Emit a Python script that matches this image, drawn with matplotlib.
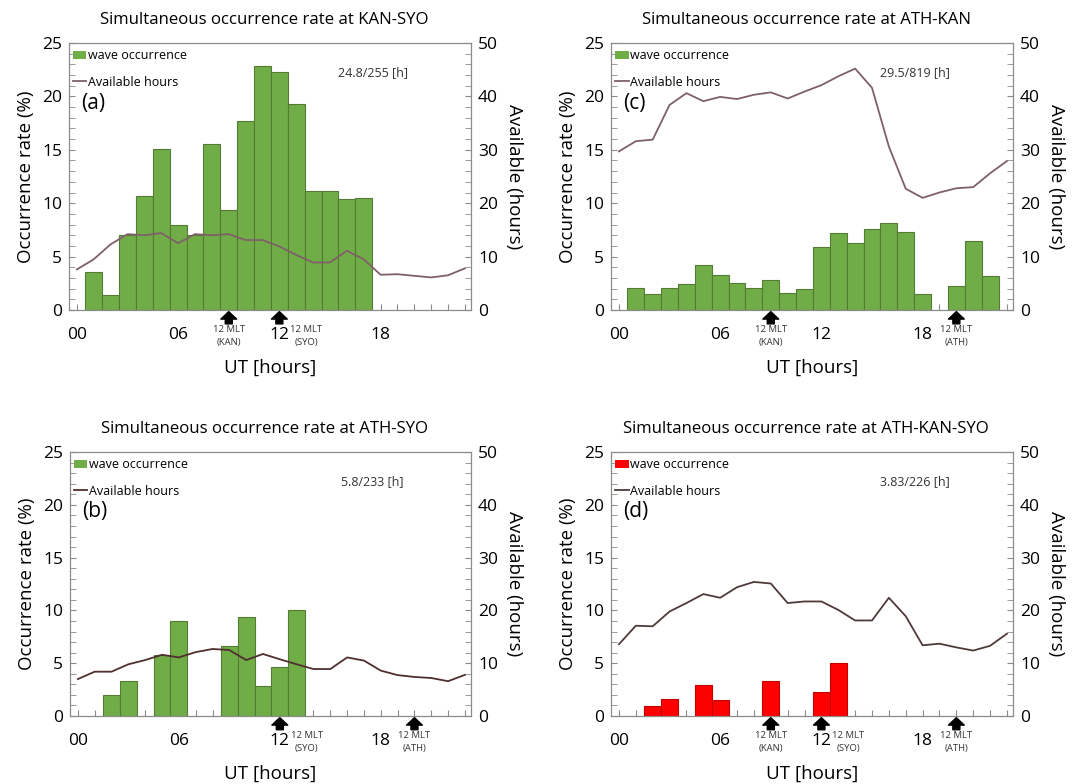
import matplotlib
matplotlib.use('Agg')
import matplotlib.pyplot as plt
from matplotlib.patches import Patch
from matplotlib.lines import Line2D

plt.rcParams['font.family'] = ['Open Sans', 'DejaVu Sans']

hours = list(range(24))

# (a) KAN-SYO
rate_a = [0, 3.6, 1.4, 7.0, 10.7, 15.1, 8.0, 7.0, 15.5, 9.4, 17.7, 22.8,
          22.3, 19.3, 11.1, 11.1, 10.4, 10.5, 0, 0, 0, 0, 0, 0]
avail_a = [7.6, 9.5, 12.3, 14.2, 14.0, 14.4, 12.5, 14.2, 14.0, 14.2, 13.1, 13.1,
           11.9, 10.3, 8.9, 8.9, 11.1, 9.5, 6.6, 6.7, 6.4, 6.1, 6.5, 7.8]

# (c) ATH-KAN
rate_c = [0, 2.1, 1.5, 2.1, 2.4, 4.2, 3.3, 2.5, 2.1, 2.8, 1.6, 2.0,
          5.9, 7.2, 6.25, 7.6, 8.1, 7.3, 1.5, 0, 2.2, 6.5, 3.2, 0]
avail_c = [29.7, 31.6, 31.9, 38.4, 40.6, 39.1, 39.9, 39.5, 40.3, 40.75, 39.6, 40.9,
           42.1, 43.75, 45.2, 41.6, 30.6, 22.7, 21.0, 22.0, 22.8, 23.0, 25.6, 27.9]

# (b) ATH-SYO
rate_b = [0, 0, 1.97, 3.34, 0, 5.8, 8.97, 0, 0, 6.66, 9.4, 2.8,
          4.6, 10.0, 0, 0, 0, 0, 0, 0, 0, 0, 0, 0]
avail_b = [7.0, 8.4, 8.4, 9.8, 10.6, 11.6, 11.1, 12.1, 12.7, 12.5, 10.6, 11.75,
           10.75, 9.8, 8.9, 8.9, 11.1, 10.5, 8.6, 7.75, 7.4, 7.2, 6.6, 7.8]

# (d) ATH-KAN-SYO
rate_d = [0, 0, 0.97, 1.6, 0, 2.9, 1.5, 0, 0, 3.3, 0, 0,
          2.3, 5.0, 0, 0, 0, 0, 0, 0, 0, 0, 0, 0]
avail_d = [13.6, 17.1, 17.0, 19.8, 21.4, 23.1, 22.4, 24.4, 25.4, 25.1, 21.4, 21.7,
           21.7, 20.1, 18.1, 18.1, 22.4, 18.9, 13.4, 13.7, 13.0, 12.4, 13.3, 15.6]

# UT of 12 MLT at each station
mlt_noon = {'KAN': 9, 'SYO': 12, 'ATH': 20}

GREEN, GREEN_EDGE = '#70ad47', '#557a35'
RED, RED_EDGE = '#ff0000', '#c00000'
GREY = '#8a8a8a'


def draw_panel(ax, title, rates, avail, fill, edge, linecolor, tag, note, stations):
    xs = [h for h, v in zip(hours, rates) if v > 0]
    ys = [v for v in rates if v > 0]
    ax.bar(xs, ys, width=1.0, color=fill, edgecolor=edge, linewidth=0.8, zorder=2)
    ax.set_xlim(-0.47, 23.36)
    ax.set_ylim(0, 25)
    ax.set_yticks(range(0, 26, 5))
    ax.set_yticks(range(0, 26), minor=True)
    ax.set_xticks(hours)
    ax.set_xticklabels(['%02d' % h if h % 6 == 0 else '' for h in hours])
    ax.tick_params(axis='x', direction='in', length=4, color=GREY, pad=12, labelsize=12.5)
    ax.tick_params(axis='y', which='both', direction='in', length=4, color=GREY,
                   labelsize=12.5, pad=5)
    for s in ax.spines.values():
        s.set_color(GREY)
    ax.set_title(title, fontsize=12.1, pad=14, x=0.485)
    ax.set_ylabel('Occurrence rate (%)', fontsize=13.5)
    ax.yaxis.set_label_coords(-0.085, 0.5)
    ax.set_xlabel('UT [hours]', fontsize=13.5, va='top')
    ax.xaxis.set_label_coords(0.5, -0.183)

    ax2 = ax.twinx()
    ax2.plot(hours, avail, color=linecolor, linewidth=1.3, zorder=3)
    ax2.set_ylim(0, 50)
    ax2.set_yticks(range(0, 51, 10))
    ax2.set_yticks(range(0, 51, 2), minor=True)
    ax2.tick_params(axis='y', which='both', direction='in', length=4, color=GREY,
                    labelsize=12.5, pad=5)
    for s in ax2.spines.values():
        s.set_color(GREY)
    ax2.set_ylabel('Available (hours)', fontsize=13.5, rotation=270, va='bottom')
    ax2.yaxis.set_label_coords(1.085, 0.5)

    handles = [Patch(facecolor=fill, edgecolor='none'),
               Line2D([], [], color=linecolor, linewidth=1.3)]
    ax2.legend(handles, ['wave occurrence', 'Available hours'], loc='upper left',
               bbox_to_anchor=(0.0, 0.99), frameon=False, fontsize=9,
               handlelength=1.1, handleheight=0.7, handletextpad=0.1,
               labelspacing=1.05, borderaxespad=0.1, borderpad=0.2)

    ax.text(0.03, 0.775, tag, transform=ax.transAxes, fontsize=15, va='center')
    ax.text(0.755, 0.89, note, transform=ax.transAxes, fontsize=9,
            ha='center', va='center', color='#333333')

    for st in stations:
        h = mlt_noon[st]
        ax.annotate('', xy=(h, -0.006), xycoords=('data', 'axes fraction'),
                    xytext=(h, -0.052), textcoords=('data', 'axes fraction'),
                    arrowprops=dict(arrowstyle='simple,head_length=0.45,head_width=0.95,tail_width=0.42',
                                    color='black', shrinkA=0, shrinkB=0, mutation_scale=12),
                    annotation_clip=False)
        tx = h + 1.6 if st == 'SYO' else h
        ax.text(tx, -0.058, '12 MLT\n(%s)' % st, transform=ax.get_xaxis_transform(),
                fontsize=6.8, ha='center', va='top', linespacing=1.55, color='#333333',
                clip_on=False)


fig = plt.figure(figsize=(10.83, 7.84), dpi=100)
ax_a = fig.add_axes([0.0637, 0.6046, 0.3712, 0.3406])
ax_c = fig.add_axes([0.5642, 0.6046, 0.3712, 0.3406])
ax_b = fig.add_axes([0.0646, 0.0867, 0.3703, 0.3367])
ax_d = fig.add_axes([0.5642, 0.0867, 0.3712, 0.3367])

draw_panel(ax_a, 'Simultaneous occurrence rate at KAN-SYO', rate_a, avail_a,
           GREEN, GREEN_EDGE, '#7f6068', '(a)', '24.8/255 [h]', ['KAN', 'SYO'])
draw_panel(ax_c, 'Simultaneous occurrence rate at ATH-KAN', rate_c, avail_c,
           GREEN, GREEN_EDGE, '#7f6068', '(c)', '29.5/819 [h]', ['KAN', 'ATH'])
draw_panel(ax_b, 'Simultaneous occurrence rate at ATH-SYO', rate_b, avail_b,
           GREEN, GREEN_EDGE, '#4f2f2f', '(b)', '5.8/233 [h]', ['SYO', 'ATH'])
draw_panel(ax_d, 'Simultaneous occurrence rate at ATH-KAN-SYO', rate_d, avail_d,
           RED, RED_EDGE, '#4f3a3a', '(d)', '3.83/226 [h]', ['KAN', 'SYO', 'ATH'])

fig.savefig('out.png', dpi=100)
